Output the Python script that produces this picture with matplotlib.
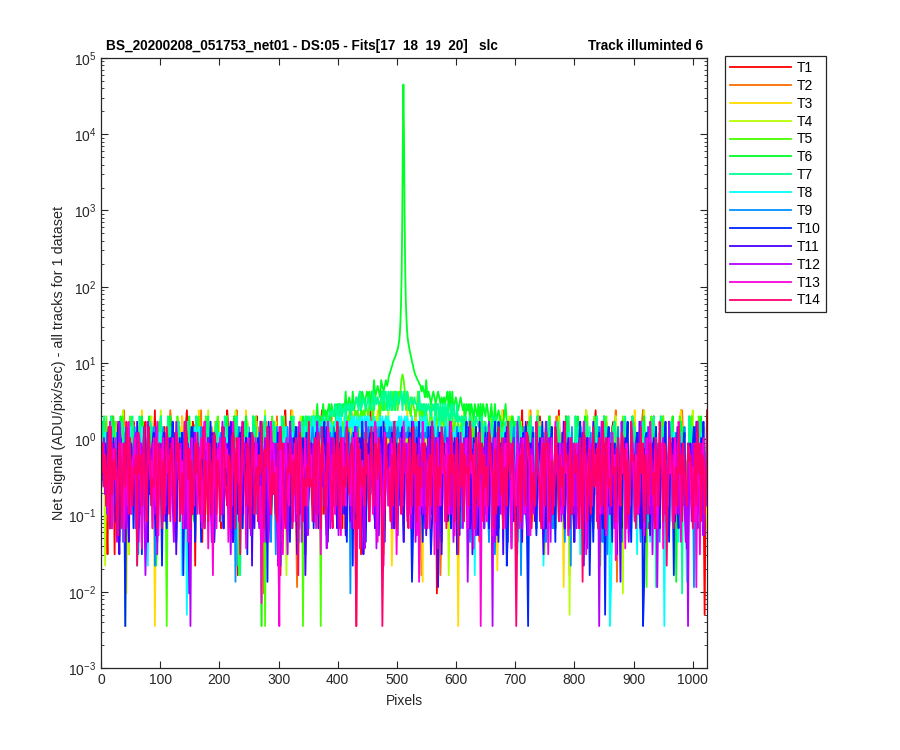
import colorsys
import numpy as np
import matplotlib
matplotlib.use("Agg")
import matplotlib.pyplot as plt

plt.rcParams['font.family'] = ['Liberation Sans', 'DejaVu Sans']
plt.rcParams['mathtext.fontset'] = 'custom'
plt.rcParams['mathtext.rm'] = 'Liberation Sans'
plt.rcParams['mathtext.it'] = 'Liberation Sans:italic'
plt.rcParams['mathtext.bf'] = 'Liberation Sans:bold'

# ---- value encoding: one character = one sample (read/estimated from the picture)
LEVEL_CODES = "aAbBcCdDeEfFgGhHiIjJkKlLmMnNoOpPqQrRsStTuUvVwWxXyYzZ"
LEVEL_VALUES = [0.00355, 0.0042, 0.005, 0.006, 0.0071, 0.0084, 0.0095, 0.0105,
                0.0115, 0.0125, 0.0135, 0.015, 0.0165, 0.019, 0.022, 0.026,
                0.031, 0.037, 0.045, 0.055, 0.068, 0.084, 0.105, 0.135, 0.19,
                0.24, 0.30, 0.36, 0.43, 0.52, 0.62, 0.74, 0.88, 1.04, 1.22,
                1.45, 1.70, 2.0, 2.4, 2.9, 3.55, 4.22, 5.01, 5.96, 7.08, 8.41,
                10.0, 11.9, 14.1, 16.8, 20.0, 23.7]

TRACK_NAMES = ['T1', 'T2', 'T3', 'T4', 'T5', 'T6', 'T7', 'T8', 'T9', 'T10',
               'T11', 'T12', 'T13', 'T14']

T1 = ("qNrPliOr kQpisRnq OpSlqMrP nlQsoKrm RlpQnsjp mQrkPtNq oRpmQRln PqRsmOkQ"
      "rPnQsomR tQnpLsRh qMrpNjRq PrsnOqmL sRqPmkRo NqtRpLqN oSrgMpQr QsNmRpOl"
      "pRqSnLoP rsmQpNrk QpsRokng RpMtQlNr sqOpRmKq nRsPqOlR pMsQrNoP qRtlPoMr"
      "SqpRnOms rPqkRlnQ pRsNqMoa QsPiOrNm RnQtPolQ pSrMqNoR qPRsnKmQ sROpQnLr"
      "RqsnPmOr QtRpkOnQ pRsMqNlR sQrdPoMn QrPsNoLm RsqPmNqR oPtrQmKn QRsPoNrM"
      "PsRqNmOq RspQlOnR qSrPnMkQ RsQoPnLm QpRtMnOR sqRpOlNq RpSqMnOR qsrPnLmQ"
      "RqtpNoMl SqRpNmOq PrsqLnMr QsPrNoKq RtQpNmLo QRsPnMoR sqPrNlMq PRsqNoMR"
      "qRsPmNoL rtqPnMkR QpSrNoMl sQrPnMoQ RpsqLnMr qtRpNoMk RqSpNlMo sqRpnbMt")
T2 = ("PqNrslmQ oSrPnKqM rQptnLoi QnsRpMoR psqNrLmO qRsonPkM RsqPMnoL pQtRnOmQ"
      "NrQpSlOk sqmRpNlQ rPoQtmNk QslPnRoj RnQsOmLp sQPrnKmO PrtoLqNm QrMsPnOl"
      "soPqRnme rdQsPoMn QrNlSoPm PqsrMnOk trQolenM qPRsNmLo RsQpOmNk psqRnOmL"
      "QrSnOpMl sRqPnkOm PrQtOnLm RsQnPmOk qsPrOnMl RqtnPoLk SqRnOpMq rPsQnOmL"
      "QsNpRmOl RsqPongM psrNqOmL QrsNpMgK RqtoPnMl sqRpNoMk PrSqNoLm RsQnPoMj"
      "RpQsNoMl sqRnPoMk qPRtNlOm RsQpNmOk QsRnPoLm RptqNoMk sqRpNlOm QRspNoMk"
      "SqRpNoLm RqsgnMoK psrQnLoM QtRpNoMk RpsqNlMo SqRpNoMk QrtfNlOm RsQpNoMk"
      "QsRpNoLm RtQpNmOk PrsqNlOm QrSpNoMk sqRpNlMo RptqNoMk QsRpNlOm RsQpNoMq")
T3 = ("PqSnLrOm QrPnsmKq RslPqdNm PsQrNlOm QrtnPmjR oSqPnaMl QsRpMnKq RpsnQoLm"
      "NqRpSoMk RpslQnMo QmtrPnOk RlQsNmPr sqOnPrKm QrSlNmOp PsQmRnOk RqtnPlMj"
      "RqPsNmOa QsRoLnMk PrsqNoMj RqSlPnMo QtRpNkMo RpsqNlOm QrOmNlPk srQpNlMo"
      "QsNpOmLr RpsqLoMk QrNsPmLo SqRpMnOk RpQsNlMo QtRmNoiK RsQpNhLo QpRsNmOk"
      "RqtpLmNo QsRpNoMf RpsqNlMo QrSpNmOk sqRpNlMo RtQpNaMk QrspNlMo PsRqNmOk"
      "QsRmNpLo RtQpNoGm PrsqNlMj QrSoNmPk RsQpNlMo QtRpKnOm RpsqNmLo QrSpOnMk"
      "RsQpNmeO QrsphOmK PsRqNlMo RtQpNmOk QsRpNlMo RqspNoMk PrSqNmLo RsQpNmOk"
      "QrtpNmLo RsQpNoMk QsRpNlMo RpsqNmOk QrSpNlMo RtQpNoMi PsRqNmLo QsRpNmOk")
T4 = ("RqshPnLo SqRnPkOm RptqOlNi QsRnMoPk srQpOlNm QrSnPlOm RptqMnOk SqRnOpLm"
      "PsQrMoNl QrPsNlKm soRqPmNr QntpRoMk RpQsOnLm SrNqPoKm QtRpNlOm PrQsMnKo"
      "SoRpQnMl RqtoNpMk PqRsMlNo RsPqgMoK QrsoPnLm SpQrNmKo RqPtOlNm sqPrNmOl"
      "QrPsOnMl spQrOnKm RtQpMlNo QsPrOnMk PrsqNoLm SqRpOmNk RqtpNlMo PsRqOnMk"
      "RpsqMoNl QtRpNoKm SpRqLnMo RqspOmNk QrSpNgMo spQrMnOk RqtpOnMl SqPrMnOk"
      "PrsqNoMl SqRpKoMn RqtpNlMo SpRqMoNk QrspOnMl RsPqNmOk tqRpNoim QsPrMnOk"
      "RqSpMnOl sqRbOnMk PrQsNlMo RtQpMoNk QsPrNoLm srQpMnOk RpSqNlMo dQsPnMoK"
      "SqPrMoNl RqtpNoKm PsRqNlMo QrSpMoNk sqRpNoLm RsQpMnOk QpRtNlMo RsQpMnOq")
T5 = ("QrPnSlMo PrQsNlOk RqSpanMl SqRpNoMk RpQsNlMo QsRnPmOk RpSqNlMa QrSpNoMk"
      "SrQpLnMo QsPrOnLk RqSmPnOl SpRqOnMk QrSpMlNo RsQpNoKm SqRpgnMo QrSpOnMj"
      "QrSnPoLm RsaQmOnK SqRnLpOm QrSpNmOk RsQnOpLm QsapMnOk RsQrSRqS qaSRsRSq"
      "RSqRsrQS rSRsQSrS SrTsRStS tSRtStST tSTuTsTu TuTsUtUt TuTuUtUt UutUuVwV"
      "UtUutSuT tStUtsTs TStsRsTs RsTSrSRs SRsRqSRs QRsQRsQr SqRSpRqS rQsPnOmK"
      "QsPnMoLr RsQpNlKm SqRoMpin RqSpNmOk QsRpOlNm RpSqMnKo SqRpNlOm QrSpOmNk"
      "RsQpMlNo QrSpOnMk SpRqNoLm RqSpMnKo SqRpNhOm QrSpOmNk RsQpNlMo SpRqMnOk"
      "QsRpNoMl RsQpenKo SqRpOnLm QrSpMlNo RsQpNoKm SpRqNmLo QrSpMoNk SqRpNmOq")
T6 = ("QsRnMpLo RqSpNlOk SqRmNoPk RsQpLnOm QrSnMoPl SqRpLohk RsQnMpOl QrSpLoNk"
      "RsPqNlMo QrSmPoKn SqRpNmLo RsQoMnPk QsRpNlMo RqSpOnMk SqRpMlNo QrSpOnMj"
      "SqRnLpOa RqSmPoNk QsRnOpLm RsPqNmOk SqRnLpOm QrSRqSRs RSrSRsTs SRsTStSt"
      "TsTtStsT tTtSTtUt TuTtUtTu TuUtUuTu UuUtUuVu UvUuVvUv VvVwVwWx xXxyYyzZ"
      "zyYxXwWw WwVvVvUv UuVuUuTu UuTuUuTu TuTuUtUt UtTuTtTu TtTsTtTs TtsTtSTs"
      "TsTtSTts STssTsSt SsRsSTsR sRsSRsQr QsPnRmOl RsQpNmKo SqRmPlNo RqSpNoMl"
      "RsQpNmLo SqRpOmNk QrSpLnio SrQpNmOk RqSpOnMl SqRpMnOk RsQpNoLm QsRpMoNk"
      "SrQpNmOl QrSpMnOk RsQpNlMo SqRpOmNk QrSpNfLo RsQpMoNk SqRpNlMo QrSpMnOq")
T7 = ("RqSnOpLm SqRpMnOk RsQnLpOm QrSpMohk SqRnPlOm RsQpMnOk QrSnOlPm SqRpMoNk"
      "QsPrOmNl RsQpNlOk SqRpMoNl QrSpNmKo RsQpOnLm SqRpMnOk QrSpLgMn RsQpNmOk"
      "SqRpMoNl QrSnPmOk RsQpOlNm SqRnMpOk QrSpLoNm RsQRSqRS sRSqRSrS RsRSrSRs"
      "StStSTts TsTStTsT tTSTtTTu TtUtTuTt TuTtTUtu TuTTuUtU UtUtUtTU tUuTuUtU"
      "TuUtTuTT uTTtUtTt TsTtTtST tTsTTsTs TsTsTSsT sTSsTsSs SrSSsRsS sRsRSsRs"
      "RSqRsQRs QrSqRSqR sQrQRsqR rQsQrQsR SqRpNlMo RqSpNoMk SqRmPlOn RsQpNoMk"
      "RsQpNoLm QrSmPnOk SqRpNlOm RsQpMoKn QrSpNlMo SqRpNmik RsQpLnMo QrSpNmOk"
      "SqRpNlOm RsQpMnOk QrSpeoLm SqRpMnOk RsQpNlOm QrdPmOnK SqRpNoLm RsQpMnOq")
T8 = ("OqNrPlMk PnQoLrMj QmPoRlNk RnPkQoMl QoRmNpLh OnPqRmLk PrNjOqLm QoNpRmLk"
      "PqNogLrM bNpQoMlR QpRnOlMk PmQoNrLj QnPrOlKm RpQnOmLk PqhOrNmL QpNoRmLk"
      "NqPoMrLk PqNrjOlM QoPnRmLk PnQoRlMk QrPnOmLj PqNoRmLk QRpSqRqR RqRsRqRs"
      "RsRqRsRS sRSrQrSr RsRSrSqS sRSrSrSR SrSRsRSs RsRSrSRs SrSRsRsR RsRSrSRs"
      "SrSRsRSr RsRsRSrs SrSrQRsR rSrQRsRq RqRsQRqR QrQRpQRq PqRPqRpO QpNgRmLk"
      "PqMnOrLj QpNrKoLm NpQoRlMk QpjNoRmi PqNrOlMk QnPoMrLk PqNoRhMj QpNrOlMk"
      "PqNoMrLk QpNrOlMj OnQpiRlM QpNoRmLk PmQnRoLj QpNoRaeK PqNoRlMk QpNrOlMj"
      "PqNoirMk QpNrOlMj PnQoRlMk QpNaOlMk PqNrOlMj QpNoRlfk PqNojRlM QpNrOlMq")
T9 = ("NqPoLrMk OkNqLrPm PqjNrMoL NqPmRloi OqNpRmLk PnLqRhOm NqPoRmKl OpNmRlQj"
      "PnOqLrMk QoiPnRmL NqPoRlMk OpQnRmLj PnMoQrLk QnOpRmLj OfNqRlMk PnQmOrLj"
      "NqPlOrMk OpNqRmLj PqNiRlMo NoPqkRmL QpNoRlMk NqOpQrLm PqRQpQRq QRqPRqRq"
      "QrPqRQpR RqRpPqRQ QrdQrPqR RqPqRQrP QRqRpQRq RqRQrPqR QrQRqRqP RqRQrQRq"
      "QrQRqPqR RqRQrQrP QrQRpQRq RqPqRqPq PqRqPqPo QpNoRmLk PnOqRlMj QnPoRlMk"
      "OpNkRlMj PnQoimLk NqPmOrLj OpNqRlMk PqgNoRlM NqOpRmLk OpMnQrLj PnQoRkMl"
      "NqPoLrMj OpNqhRlM PqNoRmLj NkQoPrMl OpNqRlMj PnQiOrLm NqPoRmLj OpNqRlKm"
      "PqNmOrLj NqOpkRmL OpNqRlMj PnQoRlMk NqPjOrLm OpNqRlMk PqNoeRlM NqOpRmLq")
T10 = ("OqNpLrMk PnQoLmsj QnOpaRmK PqNkOrMj OqiNpQmL NpOqrlMj PqNhOrMk OqNpslMj"
       "PnQorgMl QoNpRlMj NqPojQmK OpQnslMj MpNqOlrk QnOpRkMj OpNlQrMk PnQiOrLm"
       "NqPoQmLk OpNqfslM PqMnOrLk NqOpqlMj OkNqRmPl PnQoirlM NqPkOrMl OpNqslJm"
       "PqNoMrLk NqOpQlMj OpNqhrmK PnQoslMj NqPmOrLk OpNqRlMj QpNmOrLk NqOpLrMj"
       "OpNqrmfk PnQoslMj NqPoRmiK OpNqLrMj PqNoQmLk NqOpirlM OpNqsmLk PnQoRlJm"
       "NqPormLk OpNqslMj PqNmOrhk NqOpQlMj OpNqrmLk aNqOrLmJ NqPosmLk OpNqRlMj"
       "PqNoMrLk NqOpqlMj OpNqsmLk PnQogLMj NqPormLk ObNqRlMj PqNoQmLk NqOpslMj"
       "OpNqrmLk PafQrLmJ NqPoRmLk OpNqslMj PqNgQmLk NqOprlMj OpNqRmLk PnQoslMq")
T11 = ("MpNqOlRk NqMpKoLi PnOqMrLj OpMnQlsk NoMpRqLj QmPnOlJq PnMoQrKl OnQpMlri"
       "NpOqMlQk OmdNpQrL PqMnOkLs NoPmQrLj MqNoPlrk PnMqOsLj OnPqMkRl NpQoMlqh"
       "PkOqNlsm OnPjMqRl MqNlPorh PnKoMqLs OnQpMiRl NmPogLKq PqOnLmsk OnMpQlRj"
       "NpQoLmqk PoMlNqJs QnKpOmRl OpNmQiLq NpQrOmLk PnJoQmsl OnPqLmrk NpLoMqRj"
       "PqNlOmsk OnKpQmLq NpJoQmRl PnQlemri OqNpKmsl NpQoLmJq PnMoQlRk OiNpQmLs"
       "NoPkQmrl PqNlOmJs OnPiQmRl NpOqKlMq PnQjOmsl OqNpLmKr NpQoLiMs PnOkQmLq"
       "OnPqLmsk NpQkOmLj PnOqLmrh OnQpKmLs NpOqMjRl PqNoLmqk OnPiQmfs NpQkOmLq"
       "PnOlQmsk OnPjQmLr NpQkOmql PnOqLmJs OnQpKmRl NpOqLmIq PqNoKmsl OnPqJmLq")
T12 = ("OpQmNlRk PqNoMjLs QnOpLkMq PmOnQrLj NqPoLgKs OpNqMlRi PnOqKmLq QnPoLjMs"
       "PnOqLmsk PqNaOmLr OqPnKmLs NpQoLjMq OpNqKmsl PqNoLiMr NoPqKmLs PqOnLmJq"
       "OpNqLkMs NpQoMjLq PnOqKhRl OnPqLiMs PnOqKmLq QpNoLmJr OnPqKmsl NpOqLmIq"
       "PkQoNlMs JoNpQmLq NpOkQmRl QpLnOmIs OnKpQmLq IpNqOjMr PnLoQkMs OnJpQlMq"
       "NqPlOkMs PjNoQmql OkNpQmLs NpQlIoMq PnKoQmsl OjNpQlMr NkQpOfLs PnOqJlMq"
       "OnPkQlMs PnaQjMrL NlPoQkMq OnIpQlMs PnQkOmrl JnPoQlMq OnKpQmLs PnQjOlMr"
       "NpLoKqMs OnJpQmql PkNqOmLs NpIoLqMq OnPqamsl PnJqOlMr NkPoQmLs OnPqLjMq"
       "PnKqOlMs NpJoQmRl OiNpQemq PnQlOkMs NpKoQmql OnPqLjMa PnKqOmLs NpOqJlMq")
T13 = ("NqOpLmKs OkPnQlMq PqMjOnLs NlOpQkMr QnIpOmLq PnOkQmLs JoPnQlMq NpKoQmLr"
       "QnPlOkMs PjNoQmLq OlNpQkMs PqInOmgr NkPoQlMq QoPjNmLs PlNoQkMq OnIpQmLr"
       "PnQoKlMc NjOpQmLs PqNoLkaR OiNpQmLq NpKqOlMs PjNoQmLr OpLnQkMq NiPqOmLs"
       "QnKpOlMq PnJoQmLs OnLpQkMr PqInOmLq NpKoQlMs QjOpNmhr PnLoKqMq OiNpQmLs"
       "PnKqOlMq NoJpfmLs PqLnOkMq OiNpQmLr NpKqOlMs PnJoQmLq OpLnQkMs NpIqOmLr"
       "aNpLoKmR PnJoQmLq OnLkPqMs PqInOmLq NkPoQlMr QoJpNmLs PnLoQkMq OiNpQmLs"
       "PnKqOlMr NoJpQmLq PqLnOkMs OiNpQmLq NpKqOlMs PnJoQmLr OpHkLnMq NpIqOmLs"
       "QnKpOlMq PnJoQmLs OnLpQkMr PqInOmLq NpKoQlMs QjOpNmLq PnLoKqer OiNpQmLq")
T14 = ("NqMpLoRk RmOnPlJq OkNqMsPl QmLoNphr NpLoRmKq RoLnMpQk MqNkOlPR PlOqNmKr"
       "OqKmNlPs QnPkOlMq NrMlOpRk OmKqNlPr QlOnKmPR NmLpOkQr PkQnMiOs OnLqPkMr"
       "QlMoKpNs NkPoRqMl OmNlKqPR PqLkMoNq NkOmQpgr QpKnLoMs MnKoQlPr PkRoNlMq"
       "OnMkQpLs PkQnLoMR NmOqPlKa QkPnMoLr OmKpRnLq PnQoMakL QoNmKpLs NkPqOlMq"
       "PoMkQnLR NqKpLoMq OqMkNpLs PnKqLoMR QoNkMpLr NpKoQiMq MqKpNoLs OpNkQmLq"
       "NqKpMoLr QoNkPlMR PmQkNoLs OnPqMlaK NpKqOmLr QpOkNmLs OnMkPqLr PqKnOlMR"
       "QnKpMoLs OpNkQlMq NpMkQofr QoKnPlMR MnPkQoLs PkQoMnLq NoKpQmLr QnPkOlMs"
       "OpNkMqLR NqKpOlMq PmNkQoLs OnKqPhMq QpNkMoLR NpKqOmLq OpNkMqLs NqKpOlMr")

TRACKS = [T1, T2, T3, T4, T5, T6, T7, T8, T9, T10, T11, T12, T13, T14]

# ---- the illuminated track (T6) around its peak, one value per pixel
PEAK_X = list(range(486, 541))
PEAK_T6 = [6.5, 7, 7.2, 7.8, 8.2, 8.8, 9.2, 10, 10.5, 11, 11.5, 12, 12.5, 13.5,
           14, 15, 16, 18, 20, 25, 35, 60, 150, 700, 8000, 45000, 10000, 900,
           180, 70, 40, 28, 22, 19, 17, 15.5, 14, 13, 12, 11, 10, 9.5, 8.5, 8,
           7.4, 7, 6.8, 6.5, 6.2, 6, 5.8, 5.6, 5.3, 5.2, 5]

TITLE_LEFT = "BS_20200208_051753_net01 - DS:05 - Fits[17  18  19  20]   slc"
TITLE_RIGHT = "Track illuminted 6"
X_LABEL = "Pixels"
Y_LABEL = "Net Signal (ADU/pix/sec) - all tracks for 1 dataset"
X_TICKS = [0, 100, 200, 300, 400, 500, 600, 700, 800, 900, 1000]


def decode(s):
    s = s.replace(" ", "")
    return np.array([LEVEL_VALUES[LEVEL_CODES.index(c)] for c in s])


fig = plt.figure(figsize=(9, 7.5), dpi=100)
ax = fig.add_axes([101 / 900, 82 / 750, 606 / 900, 610 / 750])

n = len(TRACKS)
for i, (name, code) in enumerate(zip(TRACK_NAMES, TRACKS)):
    y = decode(code)
    x = np.linspace(1, 1024, len(y))
    if name == 'T6':
        keep = (x < PEAK_X[0]) | (x > PEAK_X[-1])
        x = np.concatenate([x[keep], np.array(PEAK_X, float)])
        y = np.concatenate([y[keep], np.array(PEAK_T6, float)])
        order = np.argsort(x)
        x, y = x[order], y[order]
    color = colorsys.hsv_to_rgb(i / n, 1.0, 1.0)
    ax.plot(x, y, color=color, lw=1.3, label=name)

ax.set_yscale('log')
ax.set_ylim(1e-3, 1e5)
ax.set_xlim(0, 1024)
ax.set_xticks(X_TICKS)
ax.tick_params(which='both', direction='in', top=True, right=True,
               colors='0.15', labelsize=10)
ax.tick_params(which='major', length=5, width=0.8)
ax.tick_params(which='minor', length=2.5, width=0.6)
for sp in ax.spines.values():
    sp.set_color('0.15')
    sp.set_linewidth(0.9)
ax.set_xlabel(X_LABEL, fontsize=10, color='0.15', labelpad=5)
ax.set_ylabel(Y_LABEL, fontsize=10.4, color='0.15')
ax.yaxis.set_label_coords(-0.058, 0.5)

ax.text(5 / 606, 1.008, TITLE_LEFT, transform=ax.transAxes, ha='left',
        va='bottom', fontsize=9.8, fontweight='bold', color='black')
ax.text(1 - 4 / 606, 1.008, TITLE_RIGHT, transform=ax.transAxes, ha='right',
        va='bottom', fontsize=9.8, fontweight='bold', color='black')

leg = ax.legend(loc='upper left', bbox_to_anchor=(725 / 900, 1 - 56 / 750),
                bbox_transform=fig.transFigure, borderaxespad=0, fancybox=False,
                edgecolor='0.15', framealpha=1, fontsize=10, handlelength=4.4,
                handletextpad=0.45, labelspacing=0.28, borderpad=0.35)
leg.get_frame().set_linewidth(0.9)

fig.savefig("out.png", dpi=100)
